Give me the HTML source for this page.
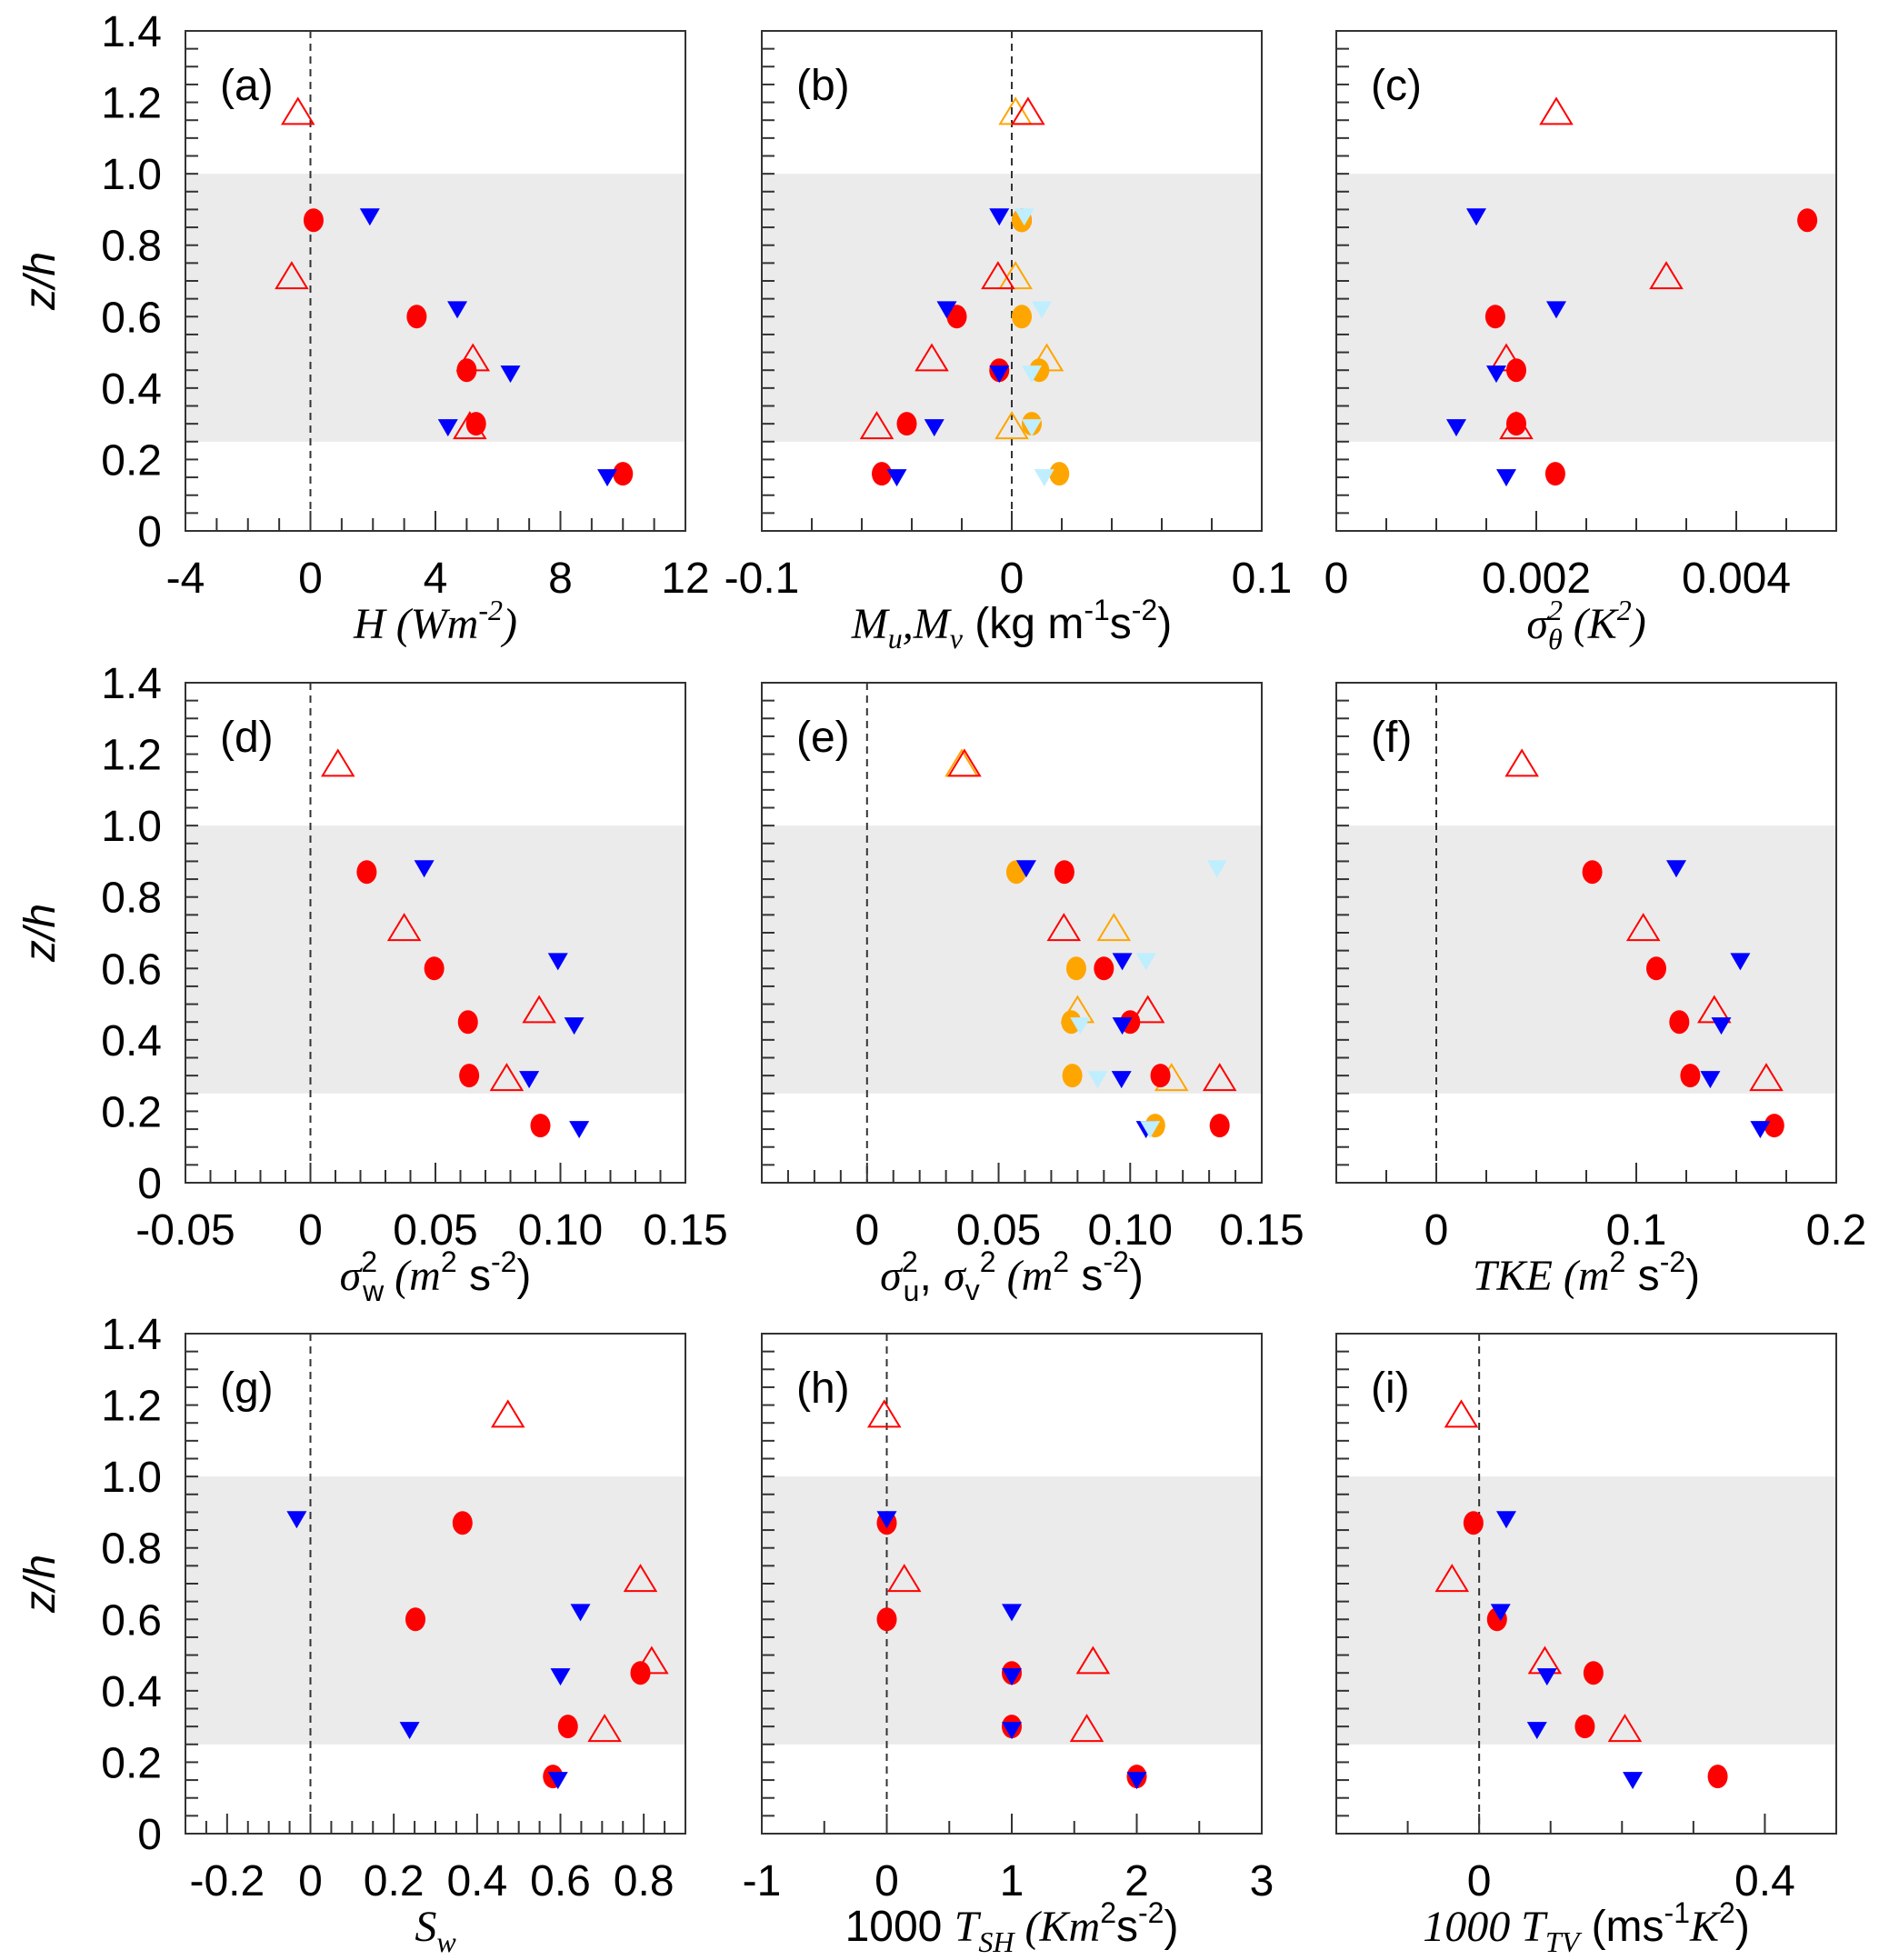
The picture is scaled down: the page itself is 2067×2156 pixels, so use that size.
<!DOCTYPE html>
<html><head><meta charset="utf-8"><style>
html,body{margin:0;padding:0;background:#fff;}
svg{display:block;}
.tk{font-family:"Liberation Sans",sans-serif;font-size:48px;fill:#000;}
.ser{font-family:"Liberation Serif",serif;font-style:italic;}
.ttl{font-family:"Liberation Sans",sans-serif;font-size:48px;fill:#000;}
</style></head><body>
<svg id="fig" width="2067" height="2156" viewBox="0 0 2067 2156" xmlns="http://www.w3.org/2000/svg"></svg>
<script>
// shared heights (z/h)
const zCircle = [0.87, 0.6, 0.45, 0.3, 0.16];
const zDown = [0.88, 0.62, 0.44, 0.29, 0.15];
const zUp = [1.17, 0.71, 0.48, 0.29];
const yTicks = [0, 0.2, 0.4, 0.6, 0.8, 1.0, 1.2, 1.4];
const yTickLabels = ["0", "0.2", "0.4", "0.6", "0.8", "1.0", "1.2", "1.4"];

// (a) H
const aRed = [0.1, 3.4, 5.0, 5.3, 10.0];
const aBlue = [1.9, 4.7, 6.4, 4.4, 9.5];
const aOpen = [-0.4, -0.6, 5.2, 5.1];
const aTicks = [-4, 0, 4, 8, 12];
const aTickLabels = ["-4", "0", "4", "8", "12"];
// (b) Mu, Mv
const bRed = [0.004, -0.022, -0.005, -0.042, -0.052];
const bOrange = [0.004, 0.004, 0.011, 0.008, 0.019];
const bBlue = [-0.005, -0.026, -0.005, -0.031, -0.046];
const bLight = [0.005, 0.012, 0.008, 0.008, 0.013];
const bOpen = [0.0065, -0.0055, -0.032, -0.054];
const bOpenOrange = [0.0015, 0.0015, 0.014, 0.0];
const bTicks = [-0.1, 0, 0.1];
const bTickLabels = ["-0.1", "0", "0.1"];
// (c) sigma theta^2
const cRed = [0.00471, 0.00159, 0.0018, 0.0018, 0.00219];
const cBlue = [0.0014, 0.0022, 0.0016, 0.0012, 0.0017];
const cOpen = [0.0022, 0.0033, 0.0017, 0.0018];
const cTicks = [0, 0.002, 0.004];
const cTickLabels = ["0", "0.002", "0.004"];
// (d) sigma w^2
const dRed = [0.0225, 0.0495, 0.063, 0.0635, 0.092];
const dBlue = [0.0455, 0.099, 0.1055, 0.0875, 0.1075];
const dOpen = [0.011, 0.0375, 0.0915, 0.0785];
const dTicks = [-0.05, 0, 0.05, 0.10, 0.15];
const dTickLabels = ["-0.05", "0", "0.05", "0.10", "0.15"];
// (e) sigma u^2, sigma v^2
const eRed = [0.075, 0.090, 0.100, 0.1115, 0.134];
const eOrange = [0.0567, 0.0795, 0.0776, 0.078, 0.1095];
const eBlue = [0.0605, 0.097, 0.097, 0.0967, 0.106];
const eLight = [0.133, 0.106, 0.081, 0.0876, 0.1076];
const eOpen = [0.037, 0.0748, 0.1067, 0.134];
const eOpenOrange = [0.036, 0.0938, 0.080, 0.1157];
const eTicks = [0, 0.05, 0.10, 0.15];
const eTickLabels = ["0", "0.05", "0.10", "0.15"];
// (f) TKE
const fRed = [0.078, 0.110, 0.1215, 0.127, 0.169];
const fBlue = [0.120, 0.152, 0.1425, 0.137, 0.162];
const fOpen = [0.0428, 0.1035, 0.139, 0.165];
const fTicks = [0, 0.1, 0.2];
const fTickLabels = ["0", "0.1", "0.2"];
// (g) Sw
const gRed = [0.365, 0.252, 0.792, 0.618, 0.582];
const gBlue = [-0.033, 0.648, 0.600, 0.238, 0.594];
const gOpen = [0.474, 0.792, 0.819, 0.706];
const gTicks = [-0.2, 0, 0.2, 0.4, 0.6, 0.8];
const gTickLabels = ["-0.2", "0", "0.2", "0.4", "0.6", "0.8"];
// (h) 1000 T_SH
const hRed = [0, 0, 1, 1, 2];
const hBlue = [0, 1, 1, 1, 2];
const hOpen = [-0.02, 0.14, 1.65, 1.6];
const hTicks = [-1, 0, 1, 2, 3];
const hTickLabels = ["-1", "0", "1", "2", "3"];
// (i) 1000 T_TV
const iRed = [-0.008, 0.025, 0.160, 0.148, 0.334];
const iBlue = [0.038, 0.030, 0.095, 0.081, 0.215];
const iOpen = [-0.025, -0.038, 0.092, 0.204];
const iTicks = [0, 0.4];
const iTickLabels = ["0", "0.4"];

const NS = "http://www.w3.org/2000/svg";
const svg = document.getElementById("fig");
const colX = [204, 838, 1470], rowY = [34, 751, 1467], PW = 550, PH = 550;

function mk(tag, attrs, parent) {
  const e = document.createElementNS(NS, tag);
  for (const k in attrs) e.setAttribute(k, attrs[k]);
  (parent || svg).appendChild(e);
  return e;
}

const S = 'font-size="32"';
const panels = [
  {id:"a", c:0, r:0, xmin:-4, xmax:12, minor:1, dash:true, ticks:aTicks, labels:aTickLabels,
   open:aOpen, openOr:null, red:aRed, orange:null, blue:aBlue, light:null,
   title:`<tspan class="ser">H (Wm</tspan><tspan class="ser" dy="-20" ${S}>-2</tspan><tspan class="ser" dy="20">)</tspan>`},
  {id:"b", c:1, r:0, xmin:-0.1, xmax:0.1, minor:0.02, dash:true, ticks:bTicks, labels:bTickLabels,
   open:bOpen, openOr:bOpenOrange, red:bRed, orange:bOrange, blue:bBlue, light:bLight,
   title:`<tspan class="ser">M</tspan><tspan class="ser" dy="11" ${S}>u</tspan><tspan class="ser" dy="-11">,M</tspan><tspan class="ser" dy="11" ${S}>v</tspan><tspan dy="-11"> (kg m</tspan><tspan dy="-20" ${S}>-1</tspan><tspan dy="20">s</tspan><tspan dy="-20" ${S}>-2</tspan><tspan dy="20">)</tspan>`},
  {id:"c", c:2, r:0, xmin:0, xmax:0.005, minor:0.0005, dash:false, ticks:cTicks, labels:cTickLabels,
   open:cOpen, openOr:null, red:cRed, orange:null, blue:cBlue, light:null,
   title:`<tspan class="ser">σ</tspan><tspan class="ser" dy="-20" ${S}>2</tspan><tspan class="ser" dx="-16" dy="32" ${S}>θ</tspan><tspan class="ser" dy="-12"> (K</tspan><tspan class="ser" dy="-20" ${S}>2</tspan><tspan class="ser" dy="20">)</tspan>`},
  {id:"d", c:0, r:1, xmin:-0.05, xmax:0.15, minor:0.01, dash:true, ticks:dTicks, labels:dTickLabels,
   open:dOpen, openOr:null, red:dRed, orange:null, blue:dBlue, light:null,
   title:`<tspan class="ser">σ</tspan><tspan dy="-20" ${S}>2</tspan><tspan dx="-16" dy="32" ${S}>w</tspan><tspan class="ser" dy="-12"> (m</tspan><tspan dy="-20" ${S}>2</tspan><tspan dy="20"> s</tspan><tspan dy="-20" ${S}>-2</tspan><tspan dy="20">)</tspan>`},
  {id:"e", c:1, r:1, xmin:-0.04, xmax:0.15, minor:0.01, dash:true, ticks:eTicks, labels:eTickLabels,
   open:eOpen, openOr:eOpenOrange, red:eRed, orange:eOrange, blue:eBlue, light:eLight,
   title:`<tspan class="ser">σ</tspan><tspan dy="-20" ${S}>2</tspan><tspan dx="-16" dy="32" ${S}>u</tspan><tspan dy="-12">, </tspan><tspan class="ser">σ</tspan><tspan dy="11" ${S}>v</tspan><tspan dy="-31" ${S}>2</tspan><tspan class="ser" dy="20"> (m</tspan><tspan dy="-20" ${S}>2</tspan><tspan dy="20"> s</tspan><tspan dy="-20" ${S}>-2</tspan><tspan dy="20">)</tspan>`},
  {id:"f", c:2, r:1, xmin:-0.05, xmax:0.2, minor:0.025, dash:true, ticks:fTicks, labels:fTickLabels,
   open:fOpen, openOr:null, red:fRed, orange:null, blue:fBlue, light:null,
   title:`<tspan class="ser">TKE (m</tspan><tspan dy="-20" ${S}>2</tspan><tspan dy="20"> s</tspan><tspan dy="-20" ${S}>-2</tspan><tspan dy="20">)</tspan>`},
  {id:"g", c:0, r:2, xmin:-0.3, xmax:0.9, minor:0.05, dash:true, ticks:gTicks, labels:gTickLabels,
   open:gOpen, openOr:null, red:gRed, orange:null, blue:gBlue, light:null,
   title:`<tspan class="ser">S</tspan><tspan class="ser" dy="12" ${S}>w</tspan>`},
  {id:"h", c:1, r:2, xmin:-1, xmax:3, minor:0.5, dash:true, ticks:hTicks, labels:hTickLabels,
   open:hOpen, openOr:null, red:hRed, orange:null, blue:hBlue, light:null,
   title:`<tspan>1000 </tspan><tspan class="ser">T</tspan><tspan class="ser" dy="12" ${S}>SH</tspan><tspan class="ser" dy="-12"> (Km</tspan><tspan dy="-20" ${S}>2</tspan><tspan dy="20">s</tspan><tspan dy="-20" ${S}>-2</tspan><tspan dy="20">)</tspan>`},
  {id:"i", c:2, r:2, xmin:-0.2, xmax:0.5, minor:0.1, dash:true, ticks:iTicks, labels:iTickLabels,
   open:iOpen, openOr:null, red:iRed, orange:null, blue:iBlue, light:null,
   title:`<tspan class="ser">1000 T</tspan><tspan class="ser" dy="12" ${S}>TV</tspan><tspan dy="-12"> (ms</tspan><tspan dy="-20" ${S}>-1</tspan><tspan class="ser" dy="20">K</tspan><tspan dy="-20" ${S}>2</tspan><tspan dy="20">)</tspan>`}
];

panels.forEach(p => {
  const x0 = colX[p.c], y0 = rowY[p.r];
  const sx = v => x0 + (v - p.xmin) / (p.xmax - p.xmin) * PW;
  const sy = v => y0 + PH - v / 1.4 * PH;
  const g = mk("g", {});
  
  
  const band = mk("rect", {x:x0, y:sy(1.0), width:PW, height:sy(0.25)-sy(1.0), fill:"#ebebeb"}, g);
  
  
  if (p.dash) {
    const dl = mk("line", {x1:sx(0), x2:sx(0), y1:y0, y2:y0+PH, stroke:"#333", "stroke-width":2, "stroke-dasharray":"8,6"}, g);
    
    
  }
  for (let k = 0; k <= 28; k++) {
    const v = k * 0.05, yy = sy(v);
    mk("line", {x1:x0, x2:x0+14, y1:yy, y2:yy, stroke:"#333", "stroke-width":2}, g);
  }
  const start = Math.ceil(p.xmin / p.minor - 1e-6);
  for (let k = start; k * p.minor <= p.xmax + 1e-9; k++) {
    const v = k * p.minor, xx = sx(v);
    const major = p.ticks.some(t => Math.abs(t - v) < p.minor * 0.01);
    mk("line", {x1:xx, x2:xx, y1:y0+PH, y2:y0+PH-(major?22:14), stroke:"#333", "stroke-width":2}, g);
  }
  p.ticks.forEach((t, i) => {
    const tl = mk("text", {x:sx(t), y:y0+PH+68, "text-anchor":"middle", class:"tk"}, g);
    tl.textContent = p.labels[i];
    
    
  });
  if (p.c === 0) {
    yTicks.forEach((t, i) => {
      const tl = mk("text", {x:x0-26, y:sy(t)+17, "text-anchor":"end", class:"tk"}, g);
      tl.textContent = yTickLabels[i];
      
      
    });
    const yt = mk("text", {x:0, y:0, "text-anchor":"middle", class:"ttl ser", transform:`translate(60,${y0+PH/2}) rotate(-90)`}, g);
    yt.textContent = "z/h";
    
    
  }
  const at = mk("text", {x:x0+PW/2, y:y0+PH+118, "text-anchor":"middle", class:"ttl"}, g);
  at.innerHTML = p.title;
  
  
  const pl = mk("text", {x:x0+38, y:y0+76, class:"tk"}, g);
  pl.textContent = "(" + p.id + ")";
  
  

  const up = (arr, col) => arr && arr.forEach((v, i) => {
    const cx = sx(v), cy = sy(zUp[i]);
    const m = mk("polygon", {points:`${cx-17},${cy+12} ${cx+17},${cy+12} ${cx},${cy-16}`, fill:"none", stroke:col, "stroke-width":2}, g);
    
    
  });
  const circ = (arr, col) => arr && arr.forEach((v, i) => {
    const m = mk("ellipse", {cx:sx(v), cy:sy(zCircle[i]), rx:11, ry:13, fill:col}, g);
    
    
  });
  const down = (arr, col) => arr && arr.forEach((v, i) => {
    const cx = sx(v), cy = sy(zDown[i]);
    const m = mk("polygon", {points:`${cx-11},${cy-9} ${cx+11},${cy-9} ${cx},${cy+10}`, fill:col}, g);
    
    
  });
  up(p.openOr, "#ffa500");
  up(p.open, "#ff0000");
  circ(p.red, "#ff0000");
  circ(p.orange, "#ffa500");
  down(p.blue, "#0000ff");
  down(p.light, "#bfeeff");
  const fr = mk("rect", {x:x0, y:y0, width:PW, height:PH, fill:"none", stroke:"#333", "stroke-width":2}, g);
  
  
});
</script>
</body></html>
